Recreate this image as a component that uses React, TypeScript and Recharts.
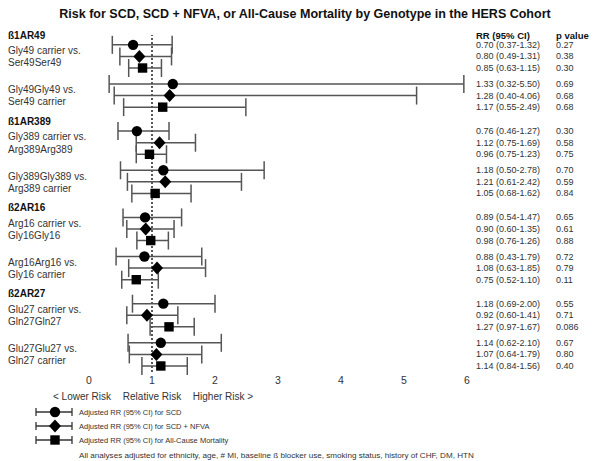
import { ScatterChart, Scatter, XAxis, YAxis, ErrorBar, ReferenceLine } from "recharts";

const FONT = '"Liberation Sans", Arial, Helvetica, sans-serif';

const title = "Risk for SCD, SCD + NFVA, or All-Cause Mortality by Genotype in the HERS Cohort";
const groups = ["ß1AR49", "ß1AR389", "ß2AR16", "ß2AR27"];
const compLine1 = [
  "Gly49 carrier vs.",
  "Gly49Gly49 vs.",
  "Gly389 carrier vs.",
  "Gly389Gly389 vs.",
  "Arg16 carrier vs.",
  "Arg16Arg16 vs.",
  "Glu27 carrier vs.",
  "Glu27Glu27 vs.",
];
const compLine2 = [
  "Ser49Ser49",
  "Ser49 carrier",
  "Arg389Arg389",
  "Arg389 carrier",
  "Gly16Gly16",
  "Gly16 carrier",
  "Gln27Gln27",
  "Gln27 carrier",
];

// one value per comparison, in the order above
const scdRR = [0.7, 1.33, 0.76, 1.18, 0.89, 0.88, 1.18, 1.14];
const scdLo = [0.37, 0.32, 0.46, 0.5, 0.54, 0.43, 0.69, 0.62];
const scdHi = [1.32, 5.5, 1.27, 2.78, 1.47, 1.79, 2.0, 2.1];
// upper ends as drawn in the figure (the long whiskers overrun their printed CI)
const scdHiDrawn = [1.32, 5.95, 1.27, 2.78, 1.47, 1.79, 2.0, 2.1];
const scdP = ["0.27", "0.69", "0.30", "0.70", "0.65", "0.72", "0.55", "0.67"];

const nfvaRR = [0.8, 1.28, 1.12, 1.21, 0.9, 1.08, 0.92, 1.07];
const nfvaLo = [0.49, 0.4, 0.75, 0.61, 0.6, 0.63, 0.6, 0.64];
const nfvaHi = [1.31, 4.06, 1.69, 2.42, 1.35, 1.85, 1.41, 1.79];
const nfvaHiDrawn = [1.31, 5.2, 1.69, 2.42, 1.35, 1.85, 1.41, 1.79];
const nfvaP = ["0.38", "0.68", "0.58", "0.59", "0.61", "0.79", "0.71", "0.80"];

const allRR = [0.85, 1.17, 0.96, 1.05, 0.98, 0.75, 1.27, 1.14];
const allLo = [0.63, 0.55, 0.75, 0.68, 0.76, 0.52, 0.97, 0.84];
const allHi = [1.15, 2.49, 1.23, 1.62, 1.26, 1.1, 1.67, 1.56];
const allP = ["0.30", "0.68", "0.75", "0.84", "0.88", "0.11", "0.086", "0.40"];

const xTicks = [0, 1, 2, 3, 4, 5, 6];
const seriesNames = [
  "Adjusted RR (95% CI) for SCD",
  "Adjusted RR (95% CI) for SCD + NFVA",
  "Adjusted RR (95% CI) for All-Cause Mortality",
];
const footnote =
  "All analyses adjusted for ethnicity, age, # MI, baseline ß blocker use, smoking status,  history of CHF, DM, HTN";

// vertical layout in row units
const COMP_GAP = 1.38;
const GROUP_GAP = 2.07;
const baseSlots: number[] = [];
let slot = 0;
compLine1.forEach((_, i) => {
  if (i > 0) slot += 2 + (i % 2 === 0 ? GROUP_GAP : COMP_GAP);
  baseSlots.push(slot);
});
const HEADER_OFF = -0.85;

const makeRows = (
  rr: number[],
  lo: number[],
  hi: number[],
  hiDrawn: number[],
  p: string[],
  k: number
) =>
  rr.map((v, i) => ({
    x: v,
    y: baseSlots[i] + k,
    err: [v - lo[i], hiDrawn[i] - v],
    ci: `${v.toFixed(2)} (${lo[i].toFixed(2)}-${hi[i].toFixed(2)})`,
    p: p[i],
  }));

const scdRows = makeRows(scdRR, scdLo, scdHi, scdHiDrawn, scdP, 0);
const nfvaRows = makeRows(nfvaRR, nfvaLo, nfvaHi, nfvaHiDrawn, nfvaP, 1);
const allRows = makeRows(allRR, allLo, allHi, allHi, allP, 2);

type Lbl = { x: number; y: number; text: string; bold?: boolean; col: string };
const labelRows: Lbl[] = [];
groups.forEach((g, gi) => {
  labelRows.push({ x: 0, y: baseSlots[gi * 2] + HEADER_OFF, text: g, bold: true, col: "left" });
});
compLine1.forEach((t, i) => {
  labelRows.push({ x: 0, y: baseSlots[i] + 0.5, text: t, col: "left" });
  labelRows.push({ x: 0, y: baseSlots[i] + 1.55, text: compLine2[i], col: "left" });
});
labelRows.push({ x: 0, y: HEADER_OFF, text: "RR (95% CI)", bold: true, col: "rr" });
labelRows.push({ x: 0, y: HEADER_OFF, text: "p value", bold: true, col: "p" });

const LEFT_X = 8;
const RR_X = 476;
const P_X = 556;

const circleMark = (cx: number, cy: number) => <circle cx={cx} cy={cy} r={5.2} fill="#000" />;
const diamondMark = (cx: number, cy: number) => (
  <path d={`M${cx} ${cy - 6.5} L${cx + 6} ${cy} L${cx} ${cy + 6.5} L${cx - 6} ${cy} Z`} fill="#000" />
);
const squareMark = (cx: number, cy: number) => (
  <rect x={cx - 4.7} y={cy - 4.7} width={9.4} height={9.4} fill="#000" />
);
const marks = [circleMark, diamondMark, squareMark];

const rowText = (cy: number, d: any) => (
  <g fontFamily={FONT} fontSize={9} fill="#333">
    <text x={RR_X} y={cy} dominantBaseline="central">
      {d.ci}
    </text>
    <text x={P_X} y={cy} dominantBaseline="central">
      {d.p}
    </text>
  </g>
);

const makeShape = (k: number) => (props: any) => (
  <g>
    {marks[k](props.cx, props.cy)}
    {rowText(props.cy, props.payload)}
  </g>
);

const LabelShape = (props: any) => {
  const d = props.payload as Lbl;
  const x = d.col === "rr" ? RR_X : d.col === "p" ? P_X : LEFT_X;
  return (
    <text
      x={x}
      y={props.cy}
      dominantBaseline="central"
      fontFamily={FONT}
      fontSize={d.bold ? (d.col === "left" ? 10 : 9.5) : 10}
      fontWeight={d.bold ? "bold" : "normal"}
      fill={d.bold ? "#111" : "#333"}
    >
      {d.text}
    </text>
  );
};

const yDomain = [HEADER_OFF, baseSlots[baseSlots.length - 1] + 2 + 0.52];

export default function App() {
  return (
    <div style={{ position: "absolute", left: 0, top: 0, width: 606, height: 461, background: "#fff" }}>
      <ScatterChart width={606} height={400} margin={{ top: 35, right: 139, bottom: 0, left: 89 }}>
        <XAxis
          type="number"
          dataKey="x"
          domain={[0, 6]}
          ticks={xTicks}
          axisLine={false}
          tickLine={false}
          tickSize={0}
          tickMargin={5}
          height={28}
          tick={{ fontSize: 10.5, fill: "#333", fontFamily: FONT }}
        />
        <YAxis type="number" dataKey="y" domain={yDomain} reversed hide />
        <ReferenceLine x={1} stroke="#000" strokeWidth={1.3} strokeDasharray="2 2" />
        <Scatter data={labelRows} shape={LabelShape} isAnimationActive={false} />
        <Scatter data={scdRows} shape={makeShape(0)} isAnimationActive={false}>
          <ErrorBar dataKey="err" direction="x" width={9} stroke="#555" strokeWidth={1.5} isAnimationActive={false} />
        </Scatter>
        <Scatter data={nfvaRows} shape={makeShape(1)} isAnimationActive={false}>
          <ErrorBar dataKey="err" direction="x" width={9} stroke="#555" strokeWidth={1.5} isAnimationActive={false} />
        </Scatter>
        <Scatter data={allRows} shape={makeShape(2)} isAnimationActive={false}>
          <ErrorBar dataKey="err" direction="x" width={9} stroke="#555" strokeWidth={1.5} isAnimationActive={false} />
        </Scatter>
      </ScatterChart>
      <svg
        width={606}
        height={461}
        style={{ position: "absolute", left: 0, top: 0, pointerEvents: "none" }}
        fontFamily={FONT}
      >
        <text x={305} y={14} textAnchor="middle" dominantBaseline="central" fontSize={12.5} fontWeight="bold" fill="#111">
          {title}
        </text>
        <g fontSize={10} fill="#333">
          <text x={82} y={396} textAnchor="middle" dominantBaseline="central">
            {"< Lower Risk"}
          </text>
          <text x={152} y={396} textAnchor="middle" dominantBaseline="central">
            Relative Risk
          </text>
          <text x={223} y={396} textAnchor="middle" dominantBaseline="central">
            {"Higher Risk >"}
          </text>
        </g>
        {seriesNames.map((name, k) => {
          const y = 412 + k * 14;
          return (
            <g key={name}>
              <line x1={36} x2={72} y1={y} y2={y} stroke="#333" strokeWidth={1.5} />
              <line x1={36} x2={36} y1={y - 4} y2={y + 4} stroke="#333" strokeWidth={1.3} />
              <line x1={72} x2={72} y1={y - 4} y2={y + 4} stroke="#333" strokeWidth={1.3} />
              {marks[k](55, y)}
              <text x={79} y={y} dominantBaseline="central" fontSize={7.5} fill="#333">
                {name}
              </text>
            </g>
          );
        })}
        <text x={79} y={455} dominantBaseline="central" fontSize={8.1} fill="#333">
          {footnote}
        </text>
      </svg>
    </div>
  );
}
